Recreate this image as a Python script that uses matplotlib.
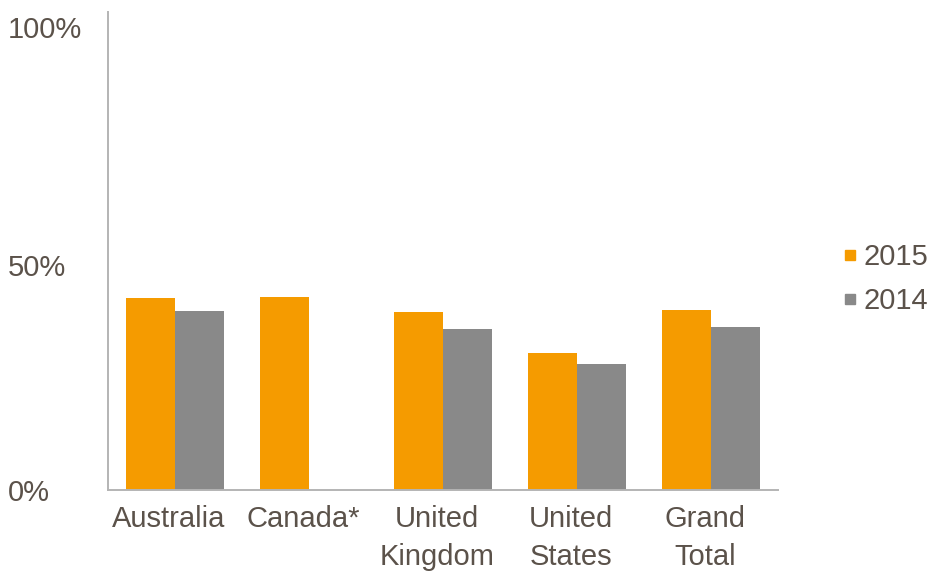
import numpy as np
import matplotlib
matplotlib.use('Agg')
from matplotlib import pyplot as plt
from matplotlib.lines import Line2D
from matplotlib.transforms import ScaledTranslation

categories = ['Australia', 'Canada*', 'United\nKingdom', 'United\nStates', 'Grand\nTotal']
share_2015 = [40.2, 40.4, 37.2, 28.7, 37.7]
share_2014 = [37.4, np.nan, 33.7, 26.4, 34.1]
y_ticks = [0, 50, 100]
y_labels = ['0%', '50%', '100%']

orange = '#F59B00'
grey = '#898989'
text_c = '#5B524A'
axis_c = '#B4B4B4'

plt.rcParams['font.family'] = ['Liberation Sans', 'DejaVu Sans']

fig = plt.figure(figsize=(9.39, 5.76), dpi=100)
ax = fig.add_axes([0.115, 0.1493, 0.7136, 0.8297])

x = np.arange(len(categories))
w = 0.365
ax.bar(x - w / 2, share_2015, w, color=orange, label='2015')
ax.bar(x + w / 2, share_2014, w, color=grey, label='2014')

ax.set_xlim(-0.5, len(categories) - 0.5)
ax.set_ylim(0, 100)

for s in ['top', 'right']:
    ax.spines[s].set_visible(False)
for s in ['left', 'bottom']:
    ax.spines[s].set_color(axis_c)
    ax.spines[s].set_linewidth(1.4)

ax.set_xticks(x)
ax.set_xticklabels(categories, fontsize=21, color=text_c, linespacing=1.45)
ax.tick_params(axis='x', length=0, pad=11)
for lab in ax.get_xticklabels():
    lab.set_transform(lab.get_transform() + ScaledTranslation(-6 / 100, 0, fig.dpi_scale_trans))

ax.set_yticks(y_ticks)
ax.set_yticklabels(y_labels, fontsize=21, color=text_c, ha='left')
ax.tick_params(axis='y', length=0, pad=72)
# labels sit a little below their gridline positions in the original
offsets = [0, -14, -15]
for lab, off in zip(ax.get_yticklabels(), offsets):
    lab.set_transform(lab.get_transform() + ScaledTranslation(0, off / 100, fig.dpi_scale_trans))

handles = [Line2D([], [], marker='s', linestyle='', color=orange, markersize=7),
           Line2D([], [], marker='s', linestyle='', color=grey, markersize=7)]
leg = fig.legend(handles, ['2015', '2014'], loc='center left',
                 bbox_to_anchor=(0.868, 0.515), frameon=False, fontsize=21,
                 handlelength=0.6, handletextpad=0.15, labelspacing=0.55)
for t in leg.get_texts():
    t.set_color(text_c)

plt.savefig('out.png', dpi=100)
